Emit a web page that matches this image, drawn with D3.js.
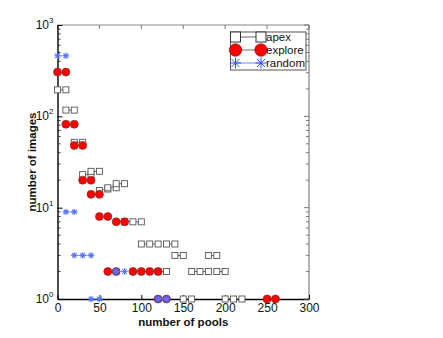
<!DOCTYPE html>
<html>
<head>
<meta charset="utf-8">
<script src="https://cdn.jsdelivr.net/npm/d3@7"></script>
<style>
  body { margin: 0; background: #fff; }
  svg { font-family: "Liberation Sans", Arial, sans-serif; }
</style>
</head>
<body>
<div id="chart"></div>
<script>
// each series is a list of short segments: [number of pools, number of images]
var apexSegs = [
  [[0, 195], [10, 195]],
  [[10, 117], [20, 117]],
  [[20, 52], [30, 52]],
  [[30, 23], [40, 23]],
  [[40, 25], [50, 25]],
  [[50, 15.4], [60, 16]],
  [[60, 16.5], [70, 16.5]],
  [[70, 18.3], [80, 18.3]],
  [[80, 7], [90, 7], [100, 7]],
  [[100, 4], [110, 4], [120, 4]],
  [[130, 4], [140, 4]],
  [[140, 3], [150, 3]],
  [[180, 3], [190, 3]],
  [[120, 2], [130, 2]],
  [[160, 2], [170, 2], [180, 2]],
  [[190, 2], [200, 2]],
  [[150, 1], [160, 1]],
  [[200, 1], [210, 1], [220, 1]]
]
var exploreSegs = [
  [[0, 305], [10, 305]],
  [[10, 82], [20, 82]],
  [[20, 48], [30, 48]],
  [[30, 20], [40, 20]],
  [[40, 14], [50, 14]],
  [[50, 8], [60, 8]],
  [[70, 7], [80, 7]],
  [[60, 2], [70, 2]],
  [[90, 2], [100, 2], [110, 2], [120, 2]],
  [[120, 1], [130, 1]],
  [[250, 1], [260, 1]]
]
var randomSegs = [
  [[0, 460], [10, 460]],
  [[10, 9], [20, 9]],
  [[20, 3], [30, 3], [40, 3]],
  [[70, 2], [80, 2]],
  [[40, 1], [50, 1]],
  [[120, 1], [130, 1]]
]
var seriesNames = ['apex', 'explore', 'random']
var xTicks = [0, 50, 100, 150, 200, 250, 300]
var yTicks = [1, 10, 100, 1000]

var width = 443
var height = 338
var margin = { top: 25, left: 57.5, right: 134, bottom: 39 }

var svg = d3.select('#chart')
  .append('svg')
  .attr('width', width)
  .attr('height', height)

var xPositionScale = d3.scaleLinear()
  .domain([0, 300])
  .range([margin.left, width - margin.right])
var yPositionScale = d3.scaleLog()
  .domain([1, 1000])
  .range([height - margin.bottom, margin.top])

var x0 = margin.left, x1 = width - margin.right
var y0 = height - margin.bottom, y1 = margin.top

// box: top and right lighter
svg.append('line').attr('x1', x0).attr('x2', x1).attr('y1', y1).attr('y2', y1)
  .attr('stroke', '#888').attr('stroke-width', 1.2)
svg.append('line').attr('x1', x1).attr('x2', x1).attr('y1', y1).attr('y2', y0)
  .attr('stroke', '#666').attr('stroke-width', 1)

// minor log ticks
var minor = []
for (var d = 1; d < 1000; d *= 10) {
  for (var k = 2; k <= 9; k++) minor.push(d * k)
}

// x axis bottom
var xAxis = d3.axisBottom(xPositionScale).tickValues(xTicks).tickSizeInner(-4).tickSizeOuter(0).tickPadding(4)
var gx = svg.append('g').attr('transform', 'translate(0,' + y0 + ')').call(xAxis)
gx.select('.domain').attr('stroke', '#000').attr('stroke-width', 1.4)
gx.selectAll('.tick line').attr('stroke', '#000')
gx.selectAll('text').attr('font-size', 12).attr('fill', '#111').attr('font-family', '"Liberation Sans", Arial, sans-serif')

// top ticks
svg.append('g').selectAll('line').data(xTicks).enter().append('line')
  .attr('x1', d => xPositionScale(d)).attr('x2', d => xPositionScale(d))
  .attr('y1', y1).attr('y2', y1 + 4).attr('stroke', '#777')

// y axis left
var yAxis = d3.axisLeft(yPositionScale).tickValues(yTicks).tickSizeInner(-5).tickSizeOuter(0).tickFormat('')
var gy = svg.append('g').attr('transform', 'translate(' + x0 + ',0)').call(yAxis)
gy.select('.domain').attr('stroke', '#000').attr('stroke-width', 1.4)
gy.selectAll('.tick line').attr('stroke', '#000')
gy.selectAll('.minor').data(minor).enter().append('line')
  .attr('x1', 0).attr('x2', 3)
  .attr('y1', d => yPositionScale(d)).attr('y2', d => yPositionScale(d))
  .attr('stroke', '#333')

// right side ticks
svg.append('g').selectAll('line').data(yTicks.concat(minor)).enter().append('line')
  .attr('x1', x1).attr('x2', d => yTicks.indexOf(d) >= 0 ? x1 - 5 : x1 - 3)
  .attr('y1', d => yPositionScale(d)).attr('y2', d => yPositionScale(d))
  .attr('stroke', '#777')

// y tick labels as 10^n
yTicks.forEach(function(d) {
  var t = svg.append('text')
    .attr('x', x0 - 4)
    .attr('y', yPositionScale(d) + 4)
    .attr('text-anchor', 'end')
    .attr('font-size', 12)
    .attr('fill', '#111')
  t.append('tspan').text('10')
  t.append('tspan').text(Math.round(Math.log10(d))).attr('font-size', 8).attr('dy', -6)
})

// axis labels
svg.append('text')
  .text('number of pools')
  .attr('x', (x0 + x1) / 2)
  .attr('y', 326)
  .attr('text-anchor', 'middle')
  .attr('font-size', 11.5)
  .attr('font-weight', 'bold')
  .attr('fill', '#111')

svg.append('text')
  .text('number of images')
  .attr('transform', 'translate(36,' + ((y0 + y1) / 2) + ') rotate(-90)')
  .attr('text-anchor', 'middle')
  .attr('font-size', 11.5)
  .attr('font-weight', 'bold')
  .attr('fill', '#111')

var line = d3.line()
  .x(d => xPositionScale(d[0]))
  .y(d => yPositionScale(d[1]))

function starPath(r) {
  var s = r * 0.72
  return 'M' + (-r) + ',0L' + r + ',0M0,' + (-r) + 'L0,' + r +
    'M' + (-s) + ',' + (-s) + 'L' + s + ',' + s + 'M' + (-s) + ',' + s + 'L' + s + ',' + (-s)
}

// is this explore point also a random point?
var randomPts = randomSegs.flat().map(p => p[0] + ':' + p[1])

function drawSeries(segs, lineColor) {
  var g = svg.append('g')
  g.selectAll('path.seg').data(segs).enter().append('path')
    .attr('class', 'seg')
    .attr('d', line)
    .attr('fill', 'none')
    .attr('stroke', lineColor)
    .attr('stroke-width', 0.8)
  return g
}

// apex
var gA = drawSeries(apexSegs, '#444')
gA.selectAll('rect').data(apexSegs.flat()).enter().append('rect')
  .attr('x', d => xPositionScale(d[0]) - 3)
  .attr('y', d => yPositionScale(d[1]) - 3)
  .attr('width', 6).attr('height', 6)
  .attr('fill', '#fff').attr('stroke', '#555').attr('stroke-width', 0.9)

// explore
var gE = drawSeries(exploreSegs, '#444')
gE.selectAll('circle').data(exploreSegs.flat()).enter().append('circle')
  .attr('cx', d => xPositionScale(d[0]))
  .attr('cy', d => yPositionScale(d[1]))
  .attr('r', 4)
  .attr('fill', d => randomPts.indexOf(d[0] + ':' + d[1]) >= 0 ? '#7a3aa8' : '#f00')
  .attr('stroke', '#733').attr('stroke-width', 0.7)

// random
var gR = drawSeries(randomSegs, '#6f8cff')
gR.selectAll('path.star').data(randomSegs.flat()).enter().append('path')
  .attr('class', 'star')
  .attr('transform', d => 'translate(' + xPositionScale(d[0]) + ',' + yPositionScale(d[1]) + ')')
  .attr('d', starPath(3.2))
  .attr('stroke', '#5a76ff').attr('stroke-width', 1.1).attr('fill', 'none')

// legend
var leg = svg.append('g')
leg.append('rect')
  .attr('x', 230.5).attr('y', 32).attr('width', 75.5).attr('height', 38)
  .attr('fill', '#fff').attr('stroke', '#555').attr('stroke-width', 1)
var legY = [37, 50, 63]
seriesNames.forEach(function(name, i) {
  var yy = legY[i]
  leg.append('line').attr('x1', 235.5).attr('x2', 261).attr('y1', yy).attr('y2', yy)
    .attr('stroke', i === 2 ? '#4d6bff' : '#444').attr('stroke-width', 0.8)
  ;[235.5, 261].forEach(function(xx) {
    if (i === 0) {
      leg.append('rect').attr('x', xx - 5).attr('y', yy - 5).attr('width', 10).attr('height', 10)
        .attr('fill', '#fff').attr('stroke', '#333')
    } else if (i === 1) {
      leg.append('circle').attr('cx', xx).attr('cy', yy).attr('r', 6.3)
        .attr('fill', '#f00').attr('stroke', '#733').attr('stroke-width', 0.7)
    } else {
      leg.append('path').attr('transform', 'translate(' + xx + ',' + yy + ')')
        .attr('d', starPath(5.5)).attr('stroke', '#2a4dff').attr('stroke-width', 1).attr('fill', 'none')
    }
  })
  leg.append('text').text(name)
    .attr('x', 266).attr('y', yy + 4)
    .attr('font-size', 11.5).attr('fill', '#111')
})
</script>
</body>
</html>
